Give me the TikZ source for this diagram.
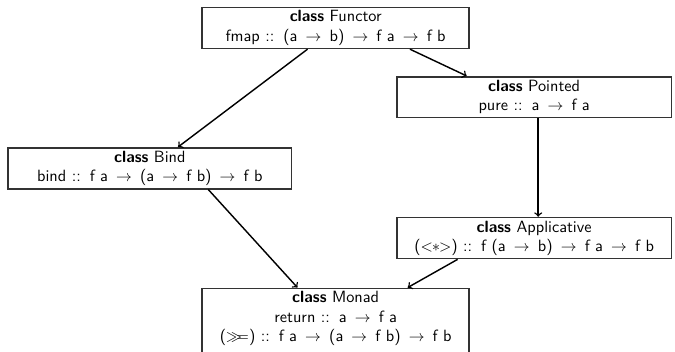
\documentclass[tikz,border=0pt]{standalone}
\usepackage{amsmath}
\usepackage{amssymb}
\usetikzlibrary{calc,arrows.meta}

\newcommand{\ar}{\hspace{0.5em}$\rightarrow$\hspace{0.5em}}
\newcommand{\hastype}{ ::\hspace{0.55em}}

\tikzset{
classbox/.style={draw=black!80,line width=1pt,align=center,
  minimum height=0.91cm,inner sep=2pt,font=\sffamily\fontsize{10.3}{12.2}\selectfont},
dep/.style={->,line width=0.9pt}
}

\begin{document}
\begin{tikzpicture}[>=to]

% Frame
\useasboundingbox (0,0) rectangle (15,-7.81);

% Classes
\node[classbox,minimum width=5.93cm] (functor) at (7.46,-0.62)
  {\textbf{class} Functor\\fmap\hastype(a\ar b)\ar f a\ar f b};
\node[classbox,minimum width=6.1cm] (pointed) at (11.87,-2.16)
  {\textbf{class} Pointed\\pure\hastype a\ar f a};
\node[classbox,minimum width=6.3cm] (bind) at (3.33,-3.74)
  {\textbf{class} Bind\\bind\hastype f a\ar(a\ar f b)\ar f b};
\node[classbox,minimum width=6.1cm] (applicative) at (11.87,-5.29)
  {\textbf{class} Applicative\\($<\!\!\ast\!\!>$)\hastype f (a\ar b)\ar f a\ar f b};
\node[classbox,minimum width=5.93cm,anchor=north] (monad) at (7.46,-6.39)
  {\textbf{class} Monad\\return\hastype a\ar f a\\($\gg\!\!=$)\hastype f a\ar(a\ar f b)\ar f b\rule[-12pt]{0pt}{0pt}};

% Dependencies
\draw[dep] (functor) -- (bind);
\draw[dep] ($(functor.south)+(1.65,0)$) -- ($(pointed.north)+(-1.5,0)$);
\draw[dep] ($(pointed.south)+(0.09,0)$) -- ($(applicative.north)+(0.09,0)$);
\draw[dep] ($(bind.south)+(1.3,0)$) -- ($(monad.north)+(-0.85,0)$);
\draw[dep] ($(applicative.south)+(-1.7,0)$) -- ($(monad.north)+(1.6,0)$);

\end{tikzpicture}
\end{document}
